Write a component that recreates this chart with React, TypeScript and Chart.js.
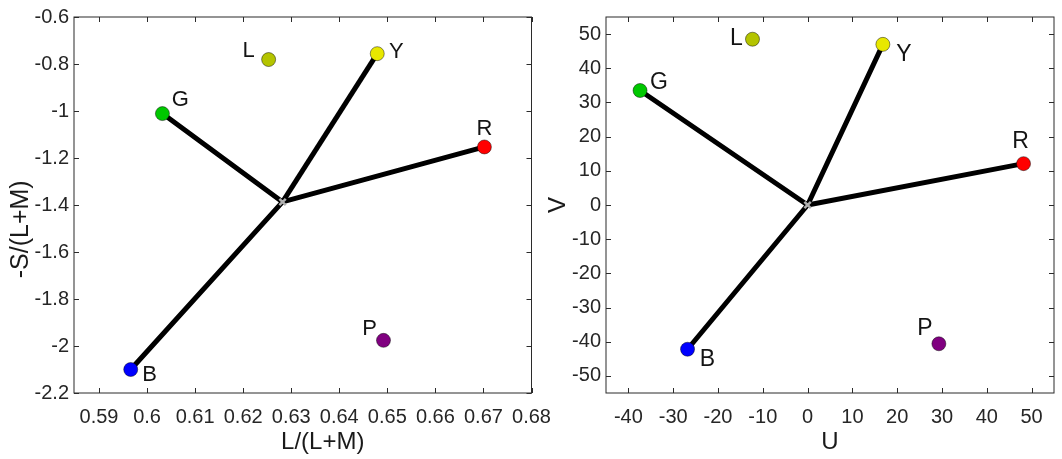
import React, { useEffect, useRef } from 'react'
import Chart from 'chart.js/auto'

// colour names of the stimuli, shared by both panels
const names = ['R', 'G', 'B', 'Y', 'L', 'P']
const colors = ['#ff0000', '#00c800', '#0000ff', '#e8e800', '#b4c400', '#800080']
const spokeNames = ['R', 'G', 'B', 'Y']

// left panel: MacLeod-Boynton style
const lmX = [0.6702, 0.6032, 0.5966, 0.6479, 0.6253, 0.6492]
const lmY = [-1.153, -1.011, -2.1, -0.756, -0.781, -1.976]
const lmCenter = { x: 0.6282, y: -1.387 }
const lmXTicks = [0.59, 0.6, 0.61, 0.62, 0.63, 0.64, 0.65, 0.66, 0.67, 0.68]
const lmYTicks = [-2.2, -2, -1.8, -1.6, -1.4, -1.2, -1, -0.8, -0.6]

// right panel: U / V
const uvU = [48.2, -37.4, -26.8, 16.8, -12.3, 29.3]
const uvV = [12.1, 33.5, -42.2, 47.0, 48.5, -40.6]
const uvCenter = { x: 0, y: 0 }
const uvUTicks = [-40, -30, -20, -10, 0, 10, 20, 30, 40, 50]
const uvVTicks = [-50, -40, -30, -20, -10, 0, 10, 20, 30, 40, 50]

const FONT = 'Arial, "Liberation Sans", Helvetica, sans-serif'

interface PanelProps {
  xs: number[]
  ys: number[]
  center: { x: number, y: number }
  xTicks: number[]
  yTicks: number[]
  xRange: [number, number]
  yRange: [number, number]
  xTitle: string
  yTitle: string
  left: number
  width: number
  axisW: number
  rightPad: number
  yTitlePad: number
  yTitleSize: number
  labelSize: number
  labelOffsets: Array<[number, number]>
}

const fmt = (v: number | string): string => String(parseFloat(Number(v).toFixed(2)))

const Panel: React.FC<PanelProps> = (p) => {
  const canvasRef = useRef<HTMLCanvasElement | null>(null)

  useEffect(() => {
    if (canvasRef.current === null) return
    const pts = p.xs.map((x, i) => ({ x, y: p.ys[i] }))

    const boxPlugin = {
      id: 'box',
      afterDatasetsDraw (chart: any) {
        const { ctx, chartArea: a, scales } = chart
        ctx.save()
        ctx.strokeStyle = '#2b2b2b'
        ctx.lineWidth = 1
        ctx.strokeRect(a.left, a.top, a.right - a.left, a.bottom - a.top)
        ctx.beginPath()
        scales.x.ticks.forEach((t: any) => {
          const px = Math.round(scales.x.getPixelForValue(t.value)) + 0.5
          ctx.moveTo(px, a.bottom); ctx.lineTo(px, a.bottom - 5)
          ctx.moveTo(px, a.top); ctx.lineTo(px, a.top + 5)
        })
        scales.y.ticks.forEach((t: any) => {
          const py = Math.round(scales.y.getPixelForValue(t.value)) + 0.5
          ctx.moveTo(a.left, py); ctx.lineTo(a.left + 5, py)
          ctx.moveTo(a.right, py); ctx.lineTo(a.right - 5, py)
        })
        ctx.stroke()

        // letters next to the points
        const meta = chart.getDatasetMeta(0)
        ctx.fillStyle = '#141414'
        ctx.font = `${p.labelSize}px ${FONT}`
        ctx.textAlign = 'center'
        ctx.textBaseline = 'middle'
        meta.data.forEach((el: any, i: number) => {
          const [dx, dy] = p.labelOffsets[i]
          ctx.fillText(names[i], el.x + dx, el.y + dy)
        })
        ctx.restore()
      }
    }

    const tickFont = { family: FONT, size: 20 }
    const chart = new Chart(canvasRef.current, {
      type: 'scatter',
      data: {
        datasets: [
          {
            data: pts,
            backgroundColor: colors,
            borderColor: 'rgba(0,0,0,0.45)',
            borderWidth: 1,
            pointRadius: 7,
            pointHoverRadius: 7,
            order: 0
          },
          {
            data: [p.center],
            pointStyle: 'crossRot',
            pointRadius: 4.5,
            borderColor: '#b0b0b0',
            borderWidth: 2.5,
            order: 1
          },
          ...spokeNames.map((n) => ({
            data: [p.center, pts[names.indexOf(n)]],
            showLine: true,
            borderColor: '#000000',
            borderWidth: 5,
            borderCapStyle: 'round' as const,
            pointRadius: 0,
            order: 2
          }))
        ]
      },
      options: {
        responsive: true,
        maintainAspectRatio: false,
        animation: false,
        events: [],
        layout: { padding: { top: 15, right: p.rightPad, bottom: 0, left: 0 } },
        plugins: { legend: { display: false }, tooltip: { enabled: false } },
        scales: {
          x: {
            type: 'linear',
            min: p.xRange[0],
            max: p.xRange[1],
            afterBuildTicks: (s: any) => { s.ticks = p.xTicks.map((v) => ({ value: v })) },
            afterFit: (s: any) => { s.height = 66 },
            grid: { display: false, drawTicks: false },
            border: { display: false },
            ticks: { font: tickFont, color: '#262626', padding: 12, maxRotation: 0, autoSkip: false, callback: (v: any) => fmt(v) },
            title: { display: true, text: p.xTitle, font: { family: FONT, size: 24 }, color: '#1a1a1a', padding: { top: 2, bottom: 2 } }
          },
          y: {
            type: 'linear',
            min: p.yRange[0],
            max: p.yRange[1],
            afterBuildTicks: (s: any) => { s.ticks = p.yTicks.map((v) => ({ value: v })) },
            afterFit: (s: any) => { s.width = p.axisW },
            grid: { display: false, drawTicks: false },
            border: { display: false },
            ticks: { font: tickFont, color: '#262626', padding: 5, autoSkip: false, callback: (v: any) => fmt(v) },
            title: { display: true, text: p.yTitle, font: { family: FONT, size: p.yTitleSize }, color: '#1a1a1a', padding: { top: p.yTitlePad, bottom: p.yTitlePad } }
          }
        }
      },
      plugins: [boxPlugin]
    })

    return () => { chart.destroy() }
  }, [p])

  return (
    <div style={{ position: 'absolute', left: p.left, top: 0, width: p.width, height: 459 }}>
      <canvas ref={canvasRef} />
    </div>
  )
}

const leftProps: PanelProps = {
  xs: lmX,
  ys: lmY,
  center: lmCenter,
  xTicks: lmXTicks,
  yTicks: lmYTicks,
  xRange: [0.5848, 0.68],
  yRange: [-2.2, -0.6],
  xTitle: '      L/(L+M)',
  yTitle: '-S/(L+M)       ',
  left: 0,
  width: 575,
  axisW: 74,
  rightPad: 43.5,
  yTitlePad: 6,
  yTitleSize: 25,
  labelSize: 22,
  labelOffsets: [[0, -18], [18, -14], [19, 5], [19, -2], [-20, -9], [-14, -11]]
}

const rightProps: PanelProps = {
  xs: uvU,
  ys: uvV,
  center: uvCenter,
  xTicks: uvUTicks,
  yTicks: uvVTicks,
  xRange: [-45, 55],
  yRange: [-55, 55],
  xTitle: 'U',
  yTitle: 'V',
  left: 540,
  width: 522,
  axisW: 66,
  rightPad: 1,
  yTitlePad: 4,
  yTitleSize: 24,
  labelSize: 23,
  labelOffsets: [[-3, -22], [19, -8], [20, 10], [21, 10], [-16, -1], [-14, -15]]
}

const App: React.FC = () => {
  return (
    <div style={{ position: 'absolute', left: 0, top: 0, width: 1062, height: 459, background: '#ffffff' }}>
      <Panel {...leftProps} />
      <Panel {...rightProps} />
    </div>
  )
}

export default App
